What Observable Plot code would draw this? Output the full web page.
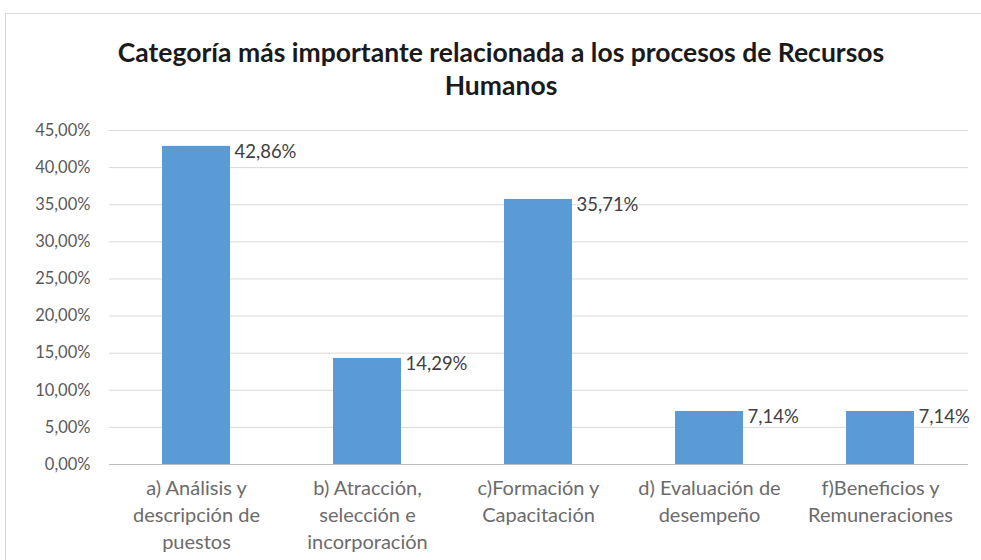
<!DOCTYPE html>
<html>
<head>
<meta charset="utf-8">
<script src="https://cdn.jsdelivr.net/npm/d3@7"></script>
<script src="https://cdn.jsdelivr.net/npm/@observablehq/plot@0.6"></script>
<style>
  html, body { margin: 0; padding: 0; background: #fff; }
  #wrap { position: relative; width: 981px; height: 560px; overflow: hidden; background: #fff; }
  #frame { position: absolute; left: 5px; top: 13px; width: 1000px; height: 600px; border: 1px solid #d9d9d9; box-sizing: border-box; }
  #title { position: absolute; left: 0; top: 36px; width: 1002px; text-align: center; font-family: Lato, "Open Sans", sans-serif; font-weight: bold; font-size: 26.5px; line-height: 33px; color: #1a1a1a; }
  #chart { position: absolute; left: 0; top: 110px; }
</style>
</head>
<body>
<div id="wrap">
  <div id="frame"></div>
  <div id="title">Categoría más importante relacionada a los procesos de Recursos<br>Humanos</div>
  <div id="chart"></div>
</div>
<script>
const categories = [
  "a) Análisis y\ndescripción de\npuestos",
  "b) Atracción,\nselección e\nincorporación",
  "c)Formación y\nCapacitación",
  "d) Evaluación de\ndesempeño",
  "f)Beneficios y\nRemuneraciones"
];
const values = [42.86, 14.29, 35.71, 7.14, 7.14];
const yTicks = [0, 5, 10, 15, 20, 25, 30, 35, 40, 45];

const data = categories.map((c, i) => ({ category: c, value: values[i] }));
const pct = v => d3.format(".2f")(v).replace(".", ",") + "%";

const plot = Plot.plot({
  width: 981,
  height: 450,
  marginTop: 20,
  marginBottom: 96,
  marginLeft: 109,
  marginRight: 13,
  style: { fontFamily: "Lato, 'Open Sans', sans-serif", fontSize: "18px", color: "#595959", background: "transparent" },
  x: { domain: categories, paddingInner: 0.6, paddingOuter: 0.3, label: null },
  y: { domain: [0, 45], label: null },
  marks: [
    Plot.ruleY(yTicks.filter(t => t > 0), { stroke: "#d9d9d9", strokeWidth: 1 }),
    Plot.ruleY([0], { stroke: "#bfbfbf", strokeWidth: 1 }),
    Plot.barY(data, { x: "category", y: "value", fill: "#5b9bd5" }),
    Plot.text(data, { x: "category", y: "value", text: d => pct(d.value), textAnchor: "start", dx: 38, dy: 6, fill: "#404040", fontSize: 18.5 }),
    Plot.axisX({ tickSize: 0, tickPadding: 12, lineHeight: 1.33, fill: "#6b6b6b", fontSize: 20 }),
    Plot.axisY({ ticks: yTicks, tickFormat: pct, tickSize: 0, tickPadding: 19, fill: "#595959", fontSize: 16.5 })
  ]
});
document.getElementById("chart").appendChild(plot);
</script>
</body>
</html>
